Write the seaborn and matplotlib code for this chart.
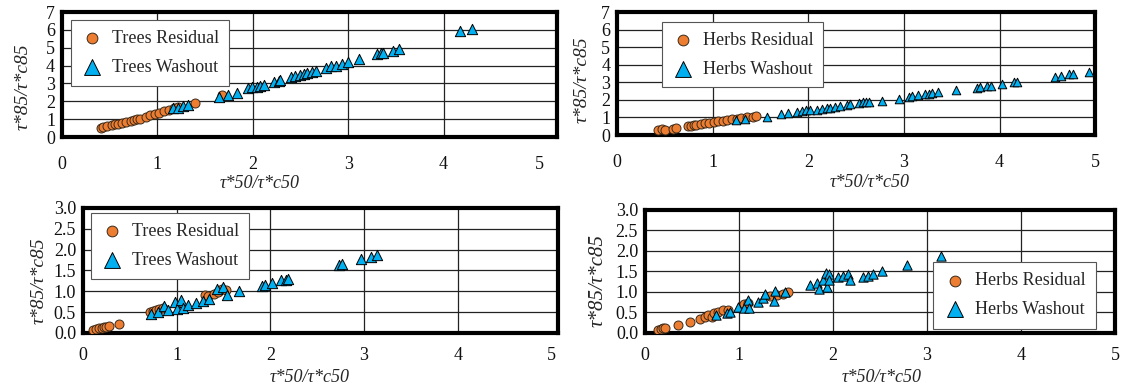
import matplotlib
matplotlib.use('Agg')
import matplotlib.pyplot as plt
import pandas as pd
import seaborn as sns

# --- data (x = tau*50/tau*c50, y = tau*85/tau*c85) ---
trees_top_res_x = [0.41, 0.43, 0.47, 0.52, 0.56, 0.59, 0.63, 0.67, 0.72, 0.75, 0.79,
                   0.82, 0.88, 0.92, 0.97, 1.02, 1.07, 1.12, 1.17, 1.22, 1.39, 1.68]
trees_top_res_y = [0.52, 0.56, 0.62, 0.66, 0.72, 0.75, 0.80, 0.84, 0.92, 0.98, 1.00,
                   1.03, 1.12, 1.22, 1.28, 1.35, 1.45, 1.54, 1.62, 1.69, 1.88, 2.35]
trees_top_wash_x = [1.16, 1.22, 1.27, 1.32, 1.65, 1.74, 1.83, 1.95, 1.99, 2.04, 2.08, 2.12,
                    2.22, 2.27, 2.29, 2.40, 2.44, 2.49, 2.54, 2.57, 2.62, 2.66, 2.77, 2.82,
                    2.87, 2.93, 3.00, 3.11, 3.30, 3.34, 3.37, 3.47, 3.53, 4.17, 4.30]
trees_top_wash_y = [1.60, 1.65, 1.73, 1.80, 2.25, 2.38, 2.49, 2.72, 2.78, 2.81, 2.87, 2.91,
                    3.10, 3.14, 3.19, 3.34, 3.40, 3.47, 3.52, 3.56, 3.62, 3.69, 3.88, 3.95,
                    4.00, 4.07, 4.18, 4.37, 4.65, 4.68, 4.73, 4.84, 4.93, 5.91, 6.04]

herbs_top_res_x = [0.43, 0.47, 0.50, 0.58, 0.62, 0.74, 0.77, 0.80, 0.83, 0.88, 0.92,
                   0.96, 1.01, 1.06, 1.11, 1.15, 1.20, 1.25, 1.30, 1.36, 1.42, 1.45]
herbs_top_res_y = [0.27, 0.32, 0.30, 0.37, 0.40, 0.50, 0.52, 0.55, 0.58, 0.63, 0.66,
                   0.69, 0.72, 0.77, 0.82, 0.86, 0.90, 0.93, 0.97, 1.00, 1.04, 1.08]
herbs_top_wash_x = [1.24, 1.34, 1.57, 1.71, 1.79, 1.88, 1.93, 1.98, 2.02, 2.09, 2.14,
                    2.20, 2.23, 2.28, 2.33, 2.40, 2.44, 2.53, 2.57, 2.60, 2.63, 2.77,
                    2.95, 3.05, 3.08, 3.15, 3.22, 3.26, 3.29, 3.36, 3.54, 3.76, 3.80,
                    3.87, 3.91, 4.03, 4.15, 4.18, 4.58, 4.64, 4.73, 4.77, 4.94]
herbs_top_wash_y = [0.85, 0.91, 1.04, 1.18, 1.24, 1.33, 1.36, 1.40, 1.42, 1.45, 1.48,
                    1.52, 1.55, 1.59, 1.65, 1.70, 1.74, 1.85, 1.86, 1.88, 1.86, 1.95,
                    2.05, 2.18, 2.20, 2.28, 2.31, 2.35, 2.37, 2.43, 2.56, 2.69, 2.71,
                    2.78, 2.80, 2.90, 3.00, 3.03, 3.32, 3.38, 3.45, 3.45, 3.60]

trees_bot_res_x = [0.11, 0.14, 0.17, 0.20, 0.23, 0.25, 0.28, 0.39, 0.72, 0.75,
                   0.78, 0.81, 0.85, 1.30, 1.34, 1.40, 1.44, 1.48, 1.53]
trees_bot_res_y = [0.07, 0.09, 0.11, 0.12, 0.14, 0.15, 0.16, 0.22, 0.50, 0.53,
                   0.56, 0.58, 0.60, 0.90, 0.89, 0.94, 0.98, 1.05, 1.02]
trees_bot_wash_x = [0.73, 0.80, 0.87, 0.91, 0.98, 1.00, 1.05, 1.07, 1.12, 1.21, 1.28,
                    1.35, 1.43, 1.49, 1.54, 1.67, 1.91, 1.94, 2.02, 2.11, 2.17, 2.19,
                    2.73, 2.76, 2.97, 3.07, 3.14]
trees_bot_wash_y = [0.45, 0.51, 0.65, 0.54, 0.75, 0.57, 0.79, 0.60, 0.67, 0.73, 0.77,
                    0.81, 1.05, 1.10, 0.91, 1.01, 1.13, 1.16, 1.21, 1.26, 1.28, 1.30,
                    1.63, 1.65, 1.77, 1.83, 1.87]

herbs_bot_res_x = [0.14, 0.17, 0.19, 0.21, 0.35, 0.48, 0.59, 0.64, 0.67, 0.71,
                   0.73, 0.78, 0.83, 0.88, 1.05, 1.10, 1.33, 1.40, 1.47, 1.52]
herbs_bot_res_y = [0.07, 0.09, 0.11, 0.12, 0.20, 0.26, 0.33, 0.38, 0.44, 0.40,
                   0.48, 0.52, 0.56, 0.55, 0.70, 0.74, 0.89, 0.92, 0.96, 1.01]
herbs_bot_wash_x = [0.76, 0.87, 0.90, 0.99, 1.05, 1.10, 1.11, 1.20, 1.26, 1.28, 1.37,
                    1.38, 1.49, 1.76, 1.83, 1.85, 1.89, 1.93, 1.94, 1.96, 1.96, 2.05,
                    2.11, 2.16, 2.18, 2.32, 2.37, 2.43, 2.52, 2.79, 3.15]
herbs_bot_wash_y = [0.44, 0.49, 0.51, 0.64, 0.62, 0.80, 0.60, 0.76, 0.85, 0.95, 0.79,
                    1.03, 0.99, 1.17, 1.21, 1.07, 1.29, 1.47, 1.12, 1.44, 1.28, 1.36,
                    1.39, 1.44, 1.30, 1.37, 1.39, 1.44, 1.52, 1.66, 1.88]

x_ticks = [0, 1, 2, 3, 4, 5]
top_y_ticks = [0, 1, 2, 3, 4, 5, 6, 7]
bot_y_ticks = [0.0, 0.5, 1.0, 1.5, 2.0, 2.5, 3.0]

ORANGE = '#ED7D31'
BLUE = '#00B0F0'

sns.set_style('white')
plt.rcParams['font.family'] = ['Liberation Serif', 'DejaVu Serif']


def panel(fig, rect, group, res_x, res_y, wash_x, wash_y, xmax, yticks, yfmt,
          tri_size, xpad, leg_anchor, xlab_pos, ylab_pos, ylab_size=14, leg_pad=0.55):
    ax = fig.add_axes(rect)
    res = pd.DataFrame({'x': res_x, 'y': res_y})
    wash = pd.DataFrame({'x': wash_x, 'y': wash_y})
    sns.scatterplot(data=res, x='x', y='y', ax=ax, marker='o', s=42, color=ORANGE,
                    edgecolor='#3a2a1a', linewidth=0.7, label=f'{group} Residual', zorder=3)
    sns.scatterplot(data=wash, x='x', y='y', ax=ax, marker='^', s=tri_size, color=BLUE,
                    edgecolor='black', linewidth=0.7, label=f'{group} Washout', zorder=3)

    ax.set_xlim(0, xmax)
    ax.set_ylim(yticks[0], yticks[-1])
    ax.set_xticks(x_ticks)
    ax.set_yticks(yticks)
    ax.set_yticklabels([yfmt.format(v) for v in yticks])
    ax.set_axisbelow(True)
    ax.grid(True, color='#222222', linewidth=0.9)
    if xmax > 5.01:
        ax.get_xgridlines()[-1].set_visible(False)
    for sp in ax.spines.values():
        sp.set_visible(True)
        sp.set_color('black')
        sp.set_linewidth(3)
    ax.tick_params(axis='both', length=0, labelsize=13, colors='#111111')
    ax.tick_params(axis='x', pad=xpad)
    ax.tick_params(axis='y', pad=5)

    ax.set_xlabel('τ*50/τ*c50', fontstyle='italic', fontsize=13)
    ax.set_ylabel('τ*85/τ*c85', fontstyle='italic', fontsize=ylab_size)
    ax.xaxis.set_label_coords(*xlab_pos)
    ax.yaxis.set_label_coords(*ylab_pos)

    leg = ax.legend(loc='upper left', bbox_to_anchor=leg_anchor, fontsize=13,
                    frameon=True, fancybox=False, framealpha=1, edgecolor='#555555',
                    borderpad=leg_pad, labelspacing=0.65, handletextpad=0.5,
                    handlelength=1.2, borderaxespad=0)
    leg.get_frame().set_linewidth(0.8)
    leg.legend_handles[0].set_sizes([60])
    leg.legend_handles[1].set_sizes([130])
    return ax


fig = plt.figure(figsize=(11.24, 3.90), dpi=100)

panel(fig, [0.0552, 0.6487, 0.4404, 0.3205], 'Trees',
      trees_top_res_x, trees_top_res_y, trees_top_wash_x, trees_top_wash_y,
      5.19, top_y_ticks, '{:d}', 55, 14, (0.018, 0.936), (0.40, -0.30), (-0.061, 0.40))
panel(fig, [0.549, 0.6538, 0.4253, 0.3154], 'Herbs',
      herbs_top_res_x, herbs_top_res_y, herbs_top_wash_x, herbs_top_wash_y,
      5.0, top_y_ticks, '{:d}', 38, 14, (0.094, 0.92), (0.529, -0.32), (-0.056, 0.45))
panel(fig, [0.0738, 0.1462, 0.4226, 0.3205], 'Trees',
      trees_bot_res_x, trees_bot_res_y, trees_bot_wash_x, trees_bot_wash_y,
      5.07, bot_y_ticks, '{:.1f}', 55, 10, (0.017, 0.96), (0.478, -0.29), (-0.074, 0.42))
panel(fig, [0.5738, 0.1462, 0.4181, 0.3154], 'Herbs',
      herbs_bot_res_x, herbs_bot_res_y, herbs_bot_wash_x, herbs_bot_wash_y,
      5.0, bot_y_ticks, '{:.1f}', 45, 10, (0.613, 0.58), (0.504, -0.29), (-0.079, 0.43),
      ylab_size=15, leg_pad=0.6)

fig.savefig('out.png', dpi=100)
